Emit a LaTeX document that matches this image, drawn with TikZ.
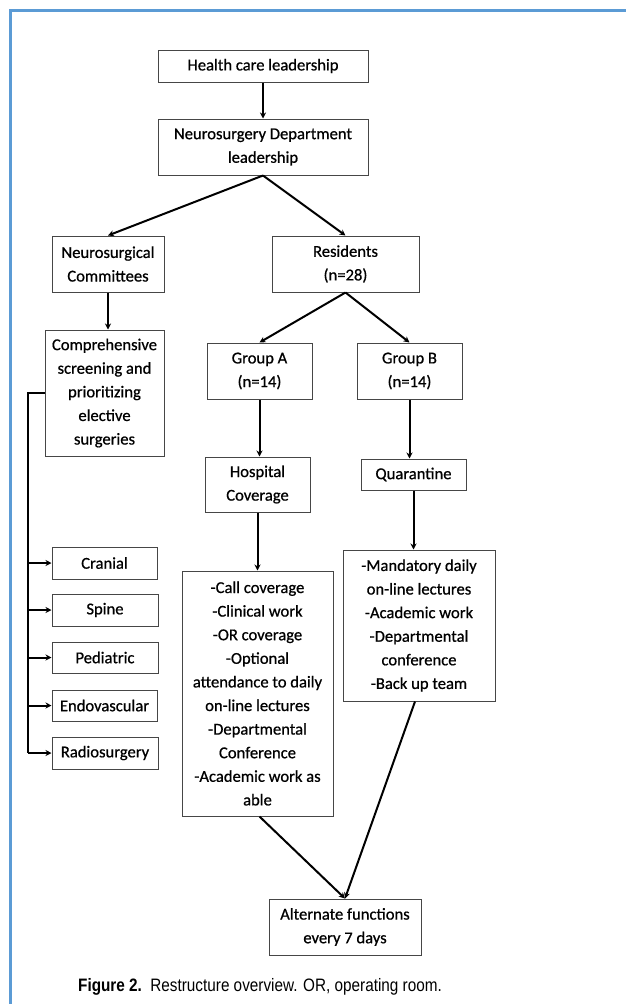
\documentclass[tikz,border=0pt]{standalone}
\usepackage{fontspec}
\setmainfont{Carlito}
\newfontfamily\boxfont{Carlito}[FakeBold=0.7]
\newfontfamily\capfont{Liberation Sans}
\usetikzlibrary{arrows.meta}
\definecolor{framebl}{RGB}{91,155,213}
\definecolor{boxgray}{RGB}{70,70,70}
\begin{document}
\begin{tikzpicture}[x=1pt,y=-1pt,
  box/.style={draw=boxgray,line width=1pt,align=center,inner sep=0pt,
    font=\boxfont\fontsize{16.6}{23.6}\selectfont},
  conn/.style={line width=2pt,-{Stealth[length=6pt,width=6pt]}},
  plain/.style={line width=2pt}]
\useasboundingbox (0,0) rectangle (626,1004);
\fill[white] (0,0) rectangle (626,1004);
\draw[framebl,line width=3pt] (10,1004) -- (10,10.5) -- (626,10.5);
% nodes
\node[box,minimum width=210,minimum height=32] (hcl) at (263,66) {Health care leadership};
\node[box,minimum width=210,minimum height=56] (nsd) at (263,147) {Neurosurgery Department\\leadership};
\node[box,minimum width=112,minimum height=56] (nsc) at (108,264) {Neurosurgical\\Committees};
\node[box,minimum width=147,minimum height=56] (res) at (345.5,264) {Residents\\(n=28)};
\node[box,minimum width=119,minimum height=126] (comp) at (104.5,393) {Comprehensive\\screening and\\prioritizing\\elective\\surgeries};
\node[box,minimum width=105,minimum height=56] (ga) at (259.5,371) {Group A\\(n=14)};
\node[box,minimum width=105,minimum height=56] (gb) at (409.5,371) {Group B\\(n=14)};
\node[box,minimum width=105,minimum height=55] (hc) at (257.5,484.5) {Hospital\\Coverage};
\node[box,minimum width=105,minimum height=31] (quar) at (413.5,474.5) {Quarantine};
\node[box,minimum width=105,minimum height=32] (cra) at (104.5,563) {Cranial};
\node[box,minimum width=106,minimum height=32] (spi) at (105,610) {Spine};
\node[box,minimum width=106,minimum height=31] (ped) at (105,657.5) {Pediatric};
\node[box,minimum width=105,minimum height=31] (endo) at (104.5,705.5) {Endovascular};
\node[box,minimum width=106,minimum height=32] (radio) at (105,753) {Radiosurgery};
\node[box,minimum width=151,minimum height=245] (hlist) at (257.5,693.5) {-Call coverage\\-Clinical work\\-OR coverage\\-Optional\\attendance to daily\\on-line lectures\\-Departmental\\Conference\\-Academic work as\\able};
\node[box,minimum width=152,minimum height=151] (blist) at (419,625.5) {-Mandatory daily\\on-line lectures\\-Academic work\\-Departmental\\conference\\-Back up team};
\node[box,minimum width=152,minimum height=56] (alt) at (345,927) {Alternate functions\\every 7 days};
% connectors
\draw[conn] (hcl.south) -- (nsd.north);
\draw[conn] (nsd.south) -- (nsc.north);
\draw[conn] (nsd.south) -- (res.north);
\draw[conn] (nsc.south) -- (nsc.south |- comp.north);
\draw[conn] (res.south) -- (ga.north);
\draw[conn] (res.south) -- (gb.north);
\draw[conn] (ga.south) -- (ga.south |- hc.north);
\draw[conn] (gb.south) -- (gb.south |- quar.north);
\draw[conn] (hc.south) -- (hc.south |- hlist.north);
\draw[conn] (quar.south) -- (quar.south |- blist.north);
\draw[conn] ([xshift=2pt]hlist.south) -- (alt.north);
\draw[conn] ([xshift=-4pt]blist.south) -- (alt.north);
\coordinate (bt) at (28,393);
\coordinate (bb) at (28,753);
\draw[plain] (comp.west) -- (bt) -- (bb);
\foreach \n in {cra,spi,ped,endo,radio}
  \draw[conn] (bt |- \n.west) -- (\n.west);
% caption
\node[anchor=center,inner sep=0pt] (cap) at (260,987) {\scalebox{0.85}[1]{\capfont\fontsize{18}{20}\selectfont\textbf{Figure 2.}\ \ Restructure overview. OR, operating room.}};
\end{tikzpicture}
\end{document}
